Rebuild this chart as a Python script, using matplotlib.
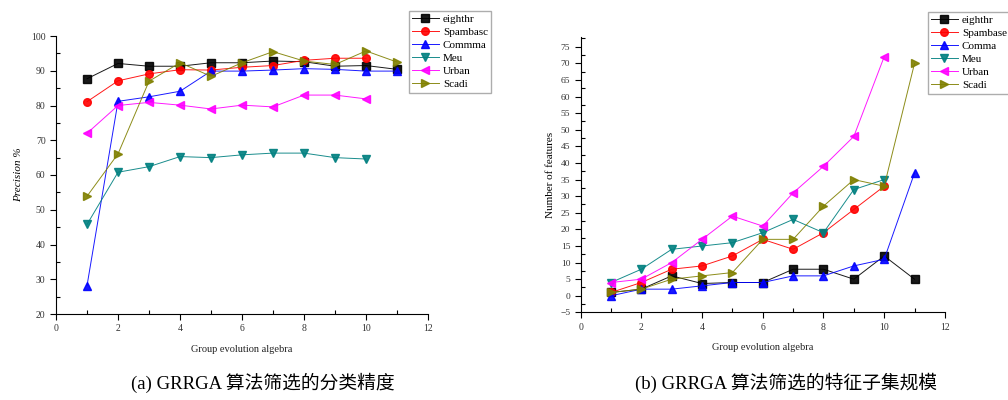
import matplotlib
matplotlib.use('Agg')
import matplotlib.pyplot as plt
from matplotlib.ticker import MultipleLocator

plt.rcParams['font.family'] = ['Liberation Serif', 'Noto Sans CJK SC']

# x values (group evolution algebra)
x11 = [1, 2, 3, 4, 5, 6, 7, 8, 9, 10, 11]
x10 = [1, 2, 3, 4, 5, 6, 7, 8, 9, 10]

# (a) precision %
prec_eighthr = [87.7, 92.1, 91.3, 91.3, 92.3, 92.3, 92.8, 92.6, 91.3, 91.5, 90.4]
prec_spambasc = [81.1, 87.1, 89.1, 90.3, 90.2, 91.0, 91.5, 93.0, 93.6, 93.6]
prec_commma = [28.2, 81.2, 82.5, 84.1, 89.9, 89.9, 90.2, 90.6, 90.4, 89.9, 89.9]
prec_meu = [45.8, 60.8, 62.4, 65.3, 65.0, 65.8, 66.3, 66.3, 65.0, 64.6]
prec_urban = [72.0, 80.0, 80.9, 80.1, 79.0, 80.1, 79.6, 83.0, 83.0, 81.9]
prec_scadi = [53.9, 66.1, 87.0, 92.3, 88.4, 92.3, 95.5, 92.8, 91.8, 95.7, 92.5]

# (b) number of features
feat_eighthr = [1, 2, 6, 3.7, 4, 4, 8, 8, 5, 12, 5]
feat_spambase = [1, 4, 8, 9, 12, 17, 14, 19, 26, 33]
feat_comma = [0, 2, 2, 3, 4, 4, 6, 6, 9, 11, 37]
feat_meu = [4, 8, 14, 15, 16, 19, 23, 19, 32, 35]
feat_urban = [4, 5, 10, 17, 24, 21, 31, 39, 48, 72]
feat_scadi = [1, 2, 5, 6, 7, 17, 17, 27, 35, 33, 70]

styles = [('k', 's'), ('red', 'o'), ('blue', '^'), ('#008080', 'v'), ('magenta', '<'), ('#808000', '>')]

def draw(ax, series, names):
    for (xs, ys), name, (c, m) in zip(series, names, styles):
        ax.plot(xs, ys, color=c, marker=m, markersize=5.5, lw=0.7, alpha=0.9, label=name)
    ax.spines['top'].set_visible(False)
    ax.spines['right'].set_visible(False)
    ax.set_xlim(0, 12)
    ax.xaxis.set_major_locator(MultipleLocator(2))
    ax.xaxis.set_minor_locator(MultipleLocator(1))
    ax.tick_params(which='major', direction='out', length=4, labelsize=7, width=0.8,
                   labelcolor='#333333')
    ax.tick_params(which='minor', direction='in', length=3, width=0.8)
    ax.set_xlabel('Group evolution algebra', fontsize=7.5, labelpad=8, color='#222222')

fig = plt.figure(figsize=(10.08, 4.0), dpi=100)

ax1 = fig.add_axes([0.0556, 0.215, 0.369, 0.695])
draw(ax1, [(x11, prec_eighthr), (x10, prec_spambasc), (x11, prec_commma),
           (x10, prec_meu), (x10, prec_urban), (x11, prec_scadi)],
     ['eighthr', 'Spambasc', 'Commma', 'Meu', 'Urban', 'Scadi'])
ax1.set_ylim(20, 100)
ax1.yaxis.set_major_locator(MultipleLocator(10))
ax1.yaxis.set_minor_locator(MultipleLocator(5))
ax1.set_ylabel('Precision %', fontsize=8, style='italic', labelpad=6)
fig.legend(*ax1.get_legend_handles_labels(), loc='upper left',
           bbox_to_anchor=(403 / 1008, 1 - 5 / 400), fontsize=8, frameon=True,
           fancybox=False, edgecolor='#999999', handlelength=2.4, labelspacing=0.3,
           borderpad=0.3, handletextpad=0.4)

ax2 = fig.add_axes([0.576, 0.219, 0.3614, 0.689])
draw(ax2, [(x11, feat_eighthr), (x10, feat_spambase), (x11, feat_comma),
           (x10, feat_meu), (x10, feat_urban), (x11, feat_scadi)],
     ['eighthr', 'Spambase', 'Comma', 'Meu', 'Urban', 'Scadi'])
ax2.set_ylim(-5, 78)
ax2.set_yticks(range(-5, 80, 5))
ax2.yaxis.set_minor_locator(MultipleLocator(2.5))
ax2.tick_params(axis='y', which='major', labelsize=6.8)
ax2.set_ylabel('Number of features', fontsize=8, labelpad=4)
fig.legend(*ax2.get_legend_handles_labels(), loc='upper left',
           bbox_to_anchor=(922 / 1008, 1 - 6 / 400), fontsize=8, frameon=True,
           fancybox=False, edgecolor='#999999', handlelength=2.4, labelspacing=0.3,
           borderpad=0.3, handletextpad=0.4)

fig.text(0.261, 0.042, '(a) GRRGA 算法筛选的分类精度', ha='center', va='center', fontsize=13.5)
fig.text(0.78, 0.042, '(b) GRRGA 算法筛选的特征子集规模', ha='center', va='center', fontsize=13.5)

fig.savefig('out.png', dpi=100)
